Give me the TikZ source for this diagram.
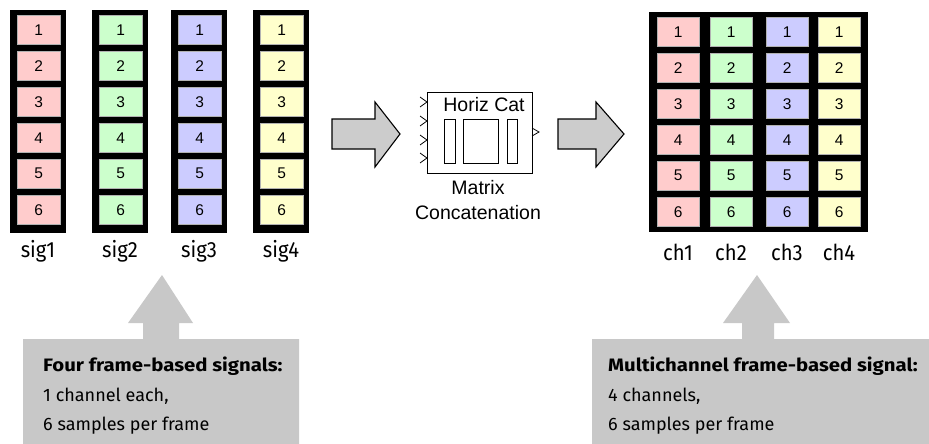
\documentclass[tikz,border=0pt]{standalone}
\usepackage{fontspec}
\setmainfont{Liberation Sans}
\newfontfamily\condf[FakeStretch=0.92]{Fira Sans}
\newfontfamily\notef{Fira Sans}
\newfontfamily\noteboldf[FakeStretch=1.13]{Fira Sans Bold}
\definecolor{cpink}{HTML}{FFCCCC}
\definecolor{cgreen}{HTML}{CCFFCC}
\definecolor{cblue}{HTML}{CCCCFF}
\definecolor{cyellow}{HTML}{FFFFCC}
\definecolor{bggray}{HTML}{C8C8C8}
\definecolor{arrgray}{HTML}{CCCCCC}
\tikzset{
  cellbox/.style={draw=gray!60, line width=0.4pt, minimum width=43pt, minimum height=29pt,
    inner sep=0pt, anchor=north west, font=\fontsize{15.5}{16}\selectfont},
  mcell/.style={cellbox, minimum width=42pt},
  sglabel/.style={font=\condf\fontsize{22}{24}\selectfont, inner sep=0pt},
  blocktext/.style={font=\fontsize{19.5}{22}\selectfont, inner sep=0pt},
  notetext/.style={font=\notef\fontsize{18}{22}\selectfont, inner sep=0pt, anchor=west},
  notebold/.style={font=\noteboldf\fontsize{18}{22}\selectfont, inner sep=0pt, anchor=west},
  fatarrow/.style={draw=black, line width=1.1pt, fill=arrgray, line join=miter},
  calloutshape/.style={fill=bggray},
  inrect/.style={draw=black, line width=1pt}
}
\begin{document}
\begin{tikzpicture}[x=1pt,y=-1pt]
\useasboundingbox (0,0) rectangle (929,444);
% ---------- four input signals ----------
\foreach \k/\xl/\col in {1/10/cpink, 2/92/cgreen, 3/171/cblue, 4/253/cyellow} {
  \fill[black] (\xl,10) rectangle ++(56,223);
  \foreach \r in {1,...,6} {
    \node[cellbox, fill=\col] (s\k r\r) at ({\xl+7},{15+36*(\r-1)}) {\r};
  }
  \node[sglabel] (sig\k) at ({\xl+28},251) {sig\k};
}
% ---------- output matrix ----------
\fill[black] (649,12) rectangle (868,232);
\foreach \k/\xl/\col in {1/657/cpink, 2/710/cgreen, 3/766/cblue, 4/818/cyellow} {
  \foreach \r in {1,...,6} {
    \node[mcell, fill=\col] (m\k r\r) at (\xl,{17+36*(\r-1)}) {\r};
  }
  \node[sglabel] (ch\k) at ({\xl+21},252) {ch\k};
}
% ---------- block arrows ----------
\draw[fatarrow] (332,119) -- (375,119) -- (375,102) -- (400,134) -- (375,167) -- (375,149) -- (332,149) -- cycle;
\draw[fatarrow] (558,119) -- (596,119) -- (596,102) -- (624,134) -- (596,167) -- (596,149) -- (558,149) -- cycle;
% ---------- Matrix Concatenation block ----------
\node[draw=black, line width=1pt, minimum width=105pt, minimum height=81pt, inner sep=0pt] (blk) at (479.5,132.5) {};
\node[blocktext] (blktitle) at (484,105) {Horiz Cat};
\draw[inrect] (444,119) rectangle (455,163);
\draw[inrect] (463,119) rectangle (498,163);
\draw[inrect] (507,119) rectangle (517,163);
\foreach \yy in {102,121,140,158} {
  \draw[line width=0.8pt] (420,\yy-5) -- (427,\yy) -- (420,\yy+5);
}
\draw[line width=0.8pt] (532,128) -- (539,132) -- (532,136);
\node[blocktext] (blkname1) at (478,188) {Matrix};
\node[blocktext] (blkname2) at (478,213) {Concatenation};
% ---------- callouts ----------
\fill[calloutshape] (23,339) -- (143,339) -- (143,323) -- (128,323) -- (162,275) -- (193,323) -- (179,323) -- (179,339) -- (299,339) -- (299,444) -- (23,444) -- cycle;
\node[notebold] (n1a) at (43,366) {Four frame-based signals:};
\node[notetext] (n1b) at (43,396) {1 channel each,};
\node[notetext] (n1c) at (43,426) {6 samples per frame};
\fill[calloutshape] (592,339) -- (742,339) -- (742,323) -- (723,323) -- (757,275) -- (790,323) -- (774,323) -- (774,339) -- (929,339) -- (929,444) -- (592,444) -- cycle;
\node[notebold] (n2a) at (608,366) {Multichannel frame-based signal:};
\node[notetext] (n2b) at (608,396) {4 channels,};
\node[notetext] (n2c) at (608,426) {6 samples per frame};
\end{tikzpicture}
\end{document}
